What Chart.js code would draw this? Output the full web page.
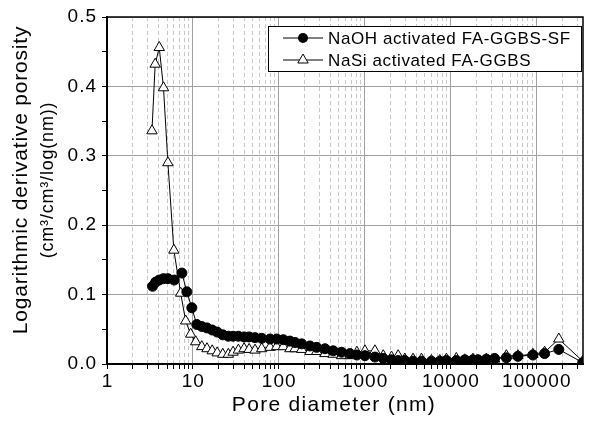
<!DOCTYPE html>
<html>
<head>
<meta charset="utf-8">
<script src="https://cdn.jsdelivr.net/npm/chart.js@4.4.1/dist/chart.umd.min.js"></script>
<style>
  html, body { margin: 0; padding: 0; background: #fff; }
  #chart { display: block; }
</style>
</head>
<body>
<canvas id="chart" width="590" height="421"></canvas>
<script>
//  data (pore diameter in nm, log differential porosity)
const naoh_diameter = [3.39, 3.69, 4.06, 4.55, 5.12, 6.06, 7.45, 8.51, 9.73, 11.1,
  12.7, 14.6, 16.8, 19.2, 22.3, 25.9, 29.4, 33.9, 39.5, 45.2, 53, 63.4, 79.2, 94.8,
  113, 135, 155, 185, 231, 277, 346, 431, 540, 675, 814, 1010, 1320, 1650, 2060, 2460,
  2940, 3670, 4600, 6010, 7510, 8980, 11700, 14700, 18300, 20900, 26200, 32700, 44800,
  61100, 91300, 125000, 183000, 348000];
const naoh_porosity = [0.112, 0.118, 0.121, 0.123, 0.123, 0.121, 0.131, 0.104, 0.081, 0.057,
  0.054, 0.052, 0.049, 0.046, 0.042, 0.040, 0.040, 0.040, 0.039, 0.039, 0.038, 0.037, 0.036, 0.036,
  0.035, 0.033, 0.031, 0.029, 0.026, 0.024, 0.022, 0.019, 0.017, 0.015, 0.013, 0.012, 0.010, 0.008,
  0.006, 0.005, 0.005, 0.004, 0.004, 0.004, 0.004, 0.005, 0.005, 0.006, 0.006, 0.006, 0.007, 0.008,
  0.009, 0.011, 0.013, 0.015, 0.021, 0.002];

const nasi_diameter = [3.34, 3.64, 4.06, 4.55, 5.12, 6.01, 7.21, 8.25, 9.43, 10.8,
  12.7, 14.6, 16.8, 19.2, 22.3, 25.9, 29.4, 33.9, 39.5, 45.2, 53, 63.4, 79.2, 94.8,
  113, 135, 155, 185, 231, 277, 346, 431, 540, 675, 814, 1010, 1320, 1650, 2060, 2460,
  2940, 3670, 4600, 6010, 7510, 8980, 11700, 14700, 18300, 20900, 26200, 32700, 44800,
  61100, 91300, 125000, 183000, 348000];
const nasi_porosity = [0.336, 0.432, 0.456, 0.398, 0.290, 0.164, 0.102, 0.062, 0.043, 0.032,
  0.025, 0.022, 0.019, 0.016, 0.014, 0.014, 0.017, 0.020, 0.022, 0.021, 0.020, 0.022, 0.024, 0.025,
  0.025, 0.022, 0.022, 0.021, 0.018, 0.018, 0.015, 0.014, 0.012, 0.012, 0.017, 0.019, 0.019, 0.012,
  0.010, 0.012, 0.007, 0.007, 0.007, 0.005, 0.005, 0.007, 0.008, 0.006, 0.007, 0.005, 0.007, 0.007,
  0.012, 0.012, 0.014, 0.017, 0.036, 0.004];

const series_names = ['NaOH activated FA-GGBS-SF', 'NaSi activated FA-GGBS'];
const x_tick_values = [1, 10, 100, 1000, 10000, 100000];
const x_tick_labels = ['1', '10', '100', '1000', '10000', '100000'];
const y_tick_labels = ['0.0', '0.1', '0.2', '0.3', '0.4', '0.5'];
const x_title = 'Pore diameter (nm)';
const y_title = ['Logarithmic derivative porosity', '(cm\u00B3/cm\u00B3/log(nm))'];

const font_family = '"Liberation Sans", Arial, sans-serif';

function to_points(xs, ys) {
  return xs.map((x, i) => ({x: x, y: ys[i]}));
}

function is_decade(v) {
  const lg = Math.log10(v);
  return Math.abs(lg - Math.round(lg)) < 1e-9;
}

function set_spacing(ctx, s) {
  try { ctx.letterSpacing = s; } catch (e) {}
}

//  legend, frame, x tick labels and axis titles drawn on top of the chart
const decorations = {
  id: 'decorations',
  beforeDraw(chart) {
    // the reference font is set a bit wider than Arial
    set_spacing(chart.ctx, '1px');
  },
  afterDraw(chart) {
    const ctx = chart.ctx;
    const area = chart.chartArea;
    const x_scale = chart.scales.x;

    // frame
    ctx.save();
    ctx.strokeStyle = '#000';
    ctx.lineWidth = 1.5;
    ctx.beginPath();
    ctx.moveTo(area.left, area.top);
    ctx.lineTo(area.right, area.top);
    ctx.lineTo(area.right, area.bottom);
    ctx.stroke();
    ctx.restore();

    // x tick labels at the decades
    ctx.save();
    ctx.fillStyle = '#000';
    ctx.textAlign = 'center';
    ctx.textBaseline = 'middle';
    ctx.font = '19px ' + font_family;
    set_spacing(ctx, '1px');
    x_tick_values.forEach((v, i) => {
      ctx.fillText(x_tick_labels[i], x_scale.getPixelForValue(v) + 0.5, area.bottom + 18);
    });
    ctx.restore();

    // legend box
    const box_left = 268, box_top = 26, box_right = area.right - 2, box_bottom = 71;
    ctx.save();
    ctx.fillStyle = '#fff';
    ctx.fillRect(box_left, box_top, box_right - box_left, box_bottom - box_top);
    ctx.strokeStyle = '#000';
    ctx.lineWidth = 1;
    ctx.strokeRect(box_left + 0.5, box_top + 0.5, box_right - box_left, box_bottom - box_top);

    const rows = [38, 60];
    ctx.font = '17px ' + font_family;
    ctx.textBaseline = 'middle';
    ctx.textAlign = 'left';
    set_spacing(ctx, '0.6px');
    chart.data.datasets.forEach((ds, i) => {
      const y = rows[i];
      ctx.strokeStyle = '#000';
      ctx.lineWidth = 1;
      ctx.beginPath();
      ctx.moveTo(283, y);
      ctx.lineTo(323, y);
      ctx.stroke();
      ctx.beginPath();
      if (ds.pointStyle === 'circle') {
        ctx.arc(303, y, ds.pointRadius, 0, Math.PI * 2);
        ctx.fillStyle = '#000';
        ctx.fill();
      } else {
        const r = ds.pointRadius;
        ctx.moveTo(303, y - r);
        ctx.lineTo(303 + r * Math.sin(Math.PI * 2 / 3), y - r * Math.cos(Math.PI * 2 / 3));
        ctx.lineTo(303 - r * Math.sin(Math.PI * 2 / 3), y - r * Math.cos(Math.PI * 2 / 3));
        ctx.closePath();
        ctx.fillStyle = '#fff';
        ctx.fill();
        ctx.stroke();
      }
      ctx.fillStyle = '#000';
      ctx.fillText(ds.label, 328, y + 1);
    });
    ctx.restore();

    // x axis title
    ctx.save();
    ctx.fillStyle = '#000';
    ctx.textAlign = 'center';
    ctx.textBaseline = 'middle';
    ctx.font = '21px ' + font_family;
    set_spacing(ctx, '1.3px');
    ctx.fillText(x_title, 334, 405);
    ctx.restore();

    // y axis title, two lines
    ctx.save();
    ctx.fillStyle = '#000';
    ctx.textAlign = 'center';
    ctx.textBaseline = 'middle';
    ctx.translate(21, 180);
    ctx.rotate(-Math.PI / 2);
    ctx.font = '21px ' + font_family;
    set_spacing(ctx, '0.8px');
    ctx.fillText(y_title[0], 0, 0);
    ctx.restore();
    ctx.save();
    ctx.fillStyle = '#000';
    ctx.textAlign = 'center';
    ctx.textBaseline = 'middle';
    ctx.translate(48, 180);
    ctx.rotate(-Math.PI / 2);
    ctx.font = '18px ' + font_family;
    set_spacing(ctx, '0.8px');
    ctx.fillText(y_title[1], 0, 0);
    ctx.restore();
  }
};

const ctx = document.getElementById('chart').getContext('2d');
const my_chart = new Chart(ctx, {
  type: 'line',
  data: {
    datasets: [{
      label: series_names[0],
      data: to_points(naoh_diameter, naoh_porosity),
      borderColor: '#000',
      backgroundColor: '#000',
      borderWidth: 1,
      pointStyle: 'circle',
      pointRadius: 5,
      pointBorderWidth: 1,
      pointBorderColor: '#000',
      pointBackgroundColor: '#000'
    }, {
      label: series_names[1],
      data: to_points(nasi_diameter, nasi_porosity),
      borderColor: '#000',
      backgroundColor: '#fff',
      borderWidth: 1,
      pointStyle: 'triangle',
      pointRadius: 6,
      pointBorderWidth: 1,
      pointBorderColor: '#000',
      pointBackgroundColor: '#fff'
    }]
  },
  options: {
    responsive: false,
    animation: false,
    devicePixelRatio: 1,
    layout: { padding: { left: 0, right: 7, top: 17, bottom: 0 } },
    elements: { line: { tension: 0 } },
    plugins: {
      legend: { display: false },
      tooltip: { enabled: false }
    },
    scales: {
      x: {
        type: 'logarithmic',
        min: 1,
        max: 350000,
        afterBuildTicks: (scale) => {
          const ticks = [];
          for (let k = 0; k <= 5; k++) {
            for (let m = 1; m <= 9; m++) {
              const v = m * Math.pow(10, k);
              if (v <= 350000) ticks.push({value: v});
            }
          }
          scale.ticks = ticks;
        },
        afterFit: (scale) => { scale.height = 57; },
        ticks: { display: false, autoSkip: false },
        grid: {
          color: (c) => (c.tick && is_decade(c.tick.value)) ? '#a0a0a0' : '#c8c8c8',
          lineWidth: 1,
          drawTicks: true,
          tickLength: 5,
          tickColor: '#000',
          tickWidth: 1
        },
        border: {
          display: true,
          color: '#000',
          width: 2,
          dash: (c) => (c.tick && !is_decade(c.tick.value)) ? [4, 3] : []
        },
        title: { display: false }
      },
      y: {
        min: 0,
        max: 0.5,
        afterFit: (scale) => { scale.width = 107; },
        ticks: {
          stepSize: 0.05,
          padding: 5,
          color: '#000',
          font: { family: font_family, size: 19 },
          callback: (v) => {
            const idx = Math.round(v * 10);
            return Math.abs(v * 10 - idx) < 1e-6 ? y_tick_labels[idx] : '';
          }
        },
        grid: {
          color: (c) => (c.tick && Math.abs(c.tick.value * 10 - Math.round(c.tick.value * 10)) < 1e-6) ? '#a0a0a0' : 'rgba(0,0,0,0)',
          lineWidth: 1,
          drawTicks: true,
          tickLength: 5,
          tickColor: '#000',
          tickWidth: 1
        },
        border: { display: true, color: '#000', width: 2 },
        title: { display: false }
      }
    }
  },
  plugins: [decorations]
});
</script>
</body>
</html>
